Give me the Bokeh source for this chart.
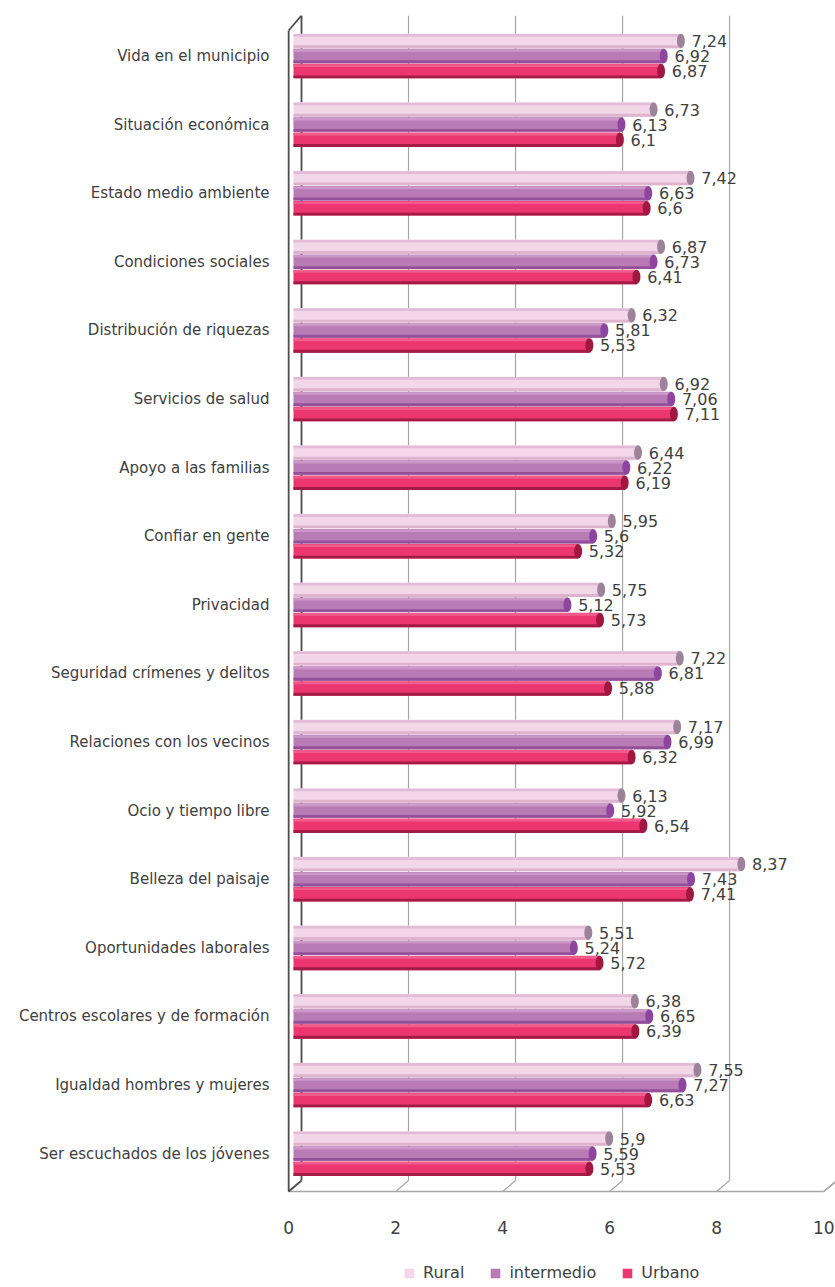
from bokeh.plotting import figure
from bokeh.models import (Range1d, FixedTicker, Legend, LegendItem, ColumnDataSource)
from bokeh.core.properties import value
from bokeh.embed import file_html
from bokeh.resources import INLINE

categories = [
    "Vida en el municipio", "Situación económica", "Estado medio ambiente",
    "Condiciones sociales", "Distribución de riquezas", "Servicios de salud",
    "Apoyo a las familias", "Confiar en gente", "Privacidad",
    "Seguridad crímenes y delitos", "Relaciones con los vecinos", "Ocio y tiempo libre",
    "Belleza del paisaje", "Oportunidades laborales", "Centros escolares y de formación",
    "Igualdad hombres y mujeres", "Ser escuchados de los jóvenes",
]
rural = [7.24, 6.73, 7.42, 6.87, 6.32, 6.92, 6.44, 5.95, 5.75, 7.22, 7.17, 6.13, 8.37, 5.51, 6.38, 7.55, 5.9]
intermedio = [6.92, 6.13, 6.63, 6.73, 5.81, 7.06, 6.22, 5.6, 5.12, 6.81, 6.99, 5.92, 7.43, 5.24, 6.65, 7.27, 5.59]
urbano = [6.87, 6.1, 6.6, 6.41, 5.53, 7.11, 6.19, 5.32, 5.73, 5.88, 6.32, 6.54, 7.41, 5.72, 6.39, 6.63, 5.53]
series_names = ["Rural", "intermedio", "Urbano"]
x_ticks = [0, 2, 4, 6, 8, 10]

FONT = "DejaVu Sans"
TXT = "#404040"

n = len(categories)
top = n - 1

def py2y(py):
    return top - (py - 55.5) / 68.6

FRAME_TOP, FRAME_BOTTOM = 15, 1287
FRAME_LEFT = 278
p = figure(frame_width=835 - FRAME_LEFT, frame_height=FRAME_BOTTOM - FRAME_TOP, output_backend="svg",
           toolbar_location=None,
           x_range=Range1d(-0.28, 10.13), y_range=Range1d(py2y(FRAME_BOTTOM), py2y(FRAME_TOP)),
           min_border_left=FRAME_LEFT, min_border_right=0, min_border_top=FRAME_TOP,
           min_border_bottom=0)
p.outline_line_color = None
p.xgrid.visible = False
p.ygrid.visible = False
p.background_fill_color = "white"

# 3D frame decoration
BACK = 0.15
FRONT = -0.09
y_top = py2y(15)
y_back_floor = py2y(1180)
y_front_floor = py2y(1191)
gx = [t + BACK for t in x_ticks[1:]]
p.segment(x0=gx, y0=[y_top] * len(gx), x1=gx, y1=[y_back_floor] * len(gx),
          line_color="#a6a6a6", line_width=1.2)
p.segment(x0=gx, y0=[y_back_floor] * len(gx), x1=[t + FRONT for t in x_ticks[1:]],
          y1=[y_front_floor] * len(gx), line_color="#a6a6a6", line_width=1.2)
p.segment(x0=[FRONT], y0=[y_front_floor], x1=[x_ticks[-1] + FRONT], y1=[y_front_floor],
          line_color="#a6a6a6", line_width=1.5)
p.segment(x0=[x_ticks[-1] + FRONT], y0=[y_front_floor], x1=[x_ticks[-1] + FRONT + 0.3],
          y1=[py2y(1178)], line_color="#a6a6a6", line_width=1.5)
# left wall
p.segment(x0=[BACK, FRONT, FRONT, FRONT], y0=[y_top, py2y(30), py2y(30), y_front_floor],
          x1=[BACK, BACK, FRONT, BACK], y1=[y_back_floor, y_top, y_front_floor, y_back_floor],
          line_color="#4d4d4d", line_width=1.8)

# x tick labels on the front edge of the floor
p.text(x=[t + FRONT for t in x_ticks], y=[py2y(1227)] * len(x_ticks),
       text=[str(t) for t in x_ticks], text_font=value(FONT), text_font_size="17px",
       text_color=TXT, text_align="center", text_baseline="middle")

# bars
specs = [
    (rural, 0.22, "#F3D7E8", "#E2BCD6", "#DDB3CD", "#9C8399"),
    (intermedio, 0.0, "#B97BB6", "#CB98C8", "#94519A", "#8E45A0"),
    (urbano, -0.22, "#EC3671", "#F25C8C", "#A51B48", "#A0173F"),
]
H = 14.5 / 68.6
items = []
for (vals, off, main, hi, lo, cap), name in zip(specs, series_names):
    ys = [top - i + off for i in range(n)]
    src = ColumnDataSource(dict(y=ys, v=vals,
                                lab=[f"{v:g}".replace(".", ",") for v in vals],
                                lx=[v + 0.2 for v in vals]))
    r = p.hbar(y="y", left=0, right="v", height=H, fill_color=main, line_color=None, source=src)
    p.hbar(y=[y + H * 0.38 for y in ys], left=0, right=vals, height=H * 0.18,
           fill_color=hi, line_color=None)
    p.hbar(y=[y - H * 0.4 for y in ys], left=0, right=vals, height=H * 0.2,
           fill_color=lo, line_color=None)
    p.ellipse(x="v", y="y", width=8, height=14.5, width_units="screen", height_units="screen",
              fill_color=cap, line_color=None, source=src)
    p.text(x="lx", y="y", text="lab", source=src, text_font=value(FONT),
           text_font_size="16px", text_color=TXT, text_baseline="middle", text_align="left")
    items.append(LegendItem(label=name, renderers=[r]))

# axes
p.xaxis.visible = False
p.yaxis.ticker = FixedTicker(ticks=list(range(n)))
p.yaxis.major_label_overrides = {top - i: c for i, c in enumerate(categories)}
p.yaxis.axis_line_color = None
p.yaxis.major_tick_line_color = None
p.yaxis.minor_tick_line_color = None
p.yaxis.major_label_standoff = 3
p.yaxis.major_label_text_font = FONT
p.yaxis.major_label_text_font_size = "15px"
p.yaxis.major_label_text_color = TXT

legend = Legend(items=items, orientation="horizontal", location=(403 - FRAME_LEFT, 5),
                glyph_width=12, glyph_height=12, label_text_font=FONT,
                label_text_font_size="16px", label_text_color=TXT, spacing=25,
                label_standoff=8, border_line_color=None, background_fill_alpha=0,
                margin=0, padding=0, label_height=16)
p.add_layout(legend)

open("out.html", "w").write(file_html(p, INLINE))
